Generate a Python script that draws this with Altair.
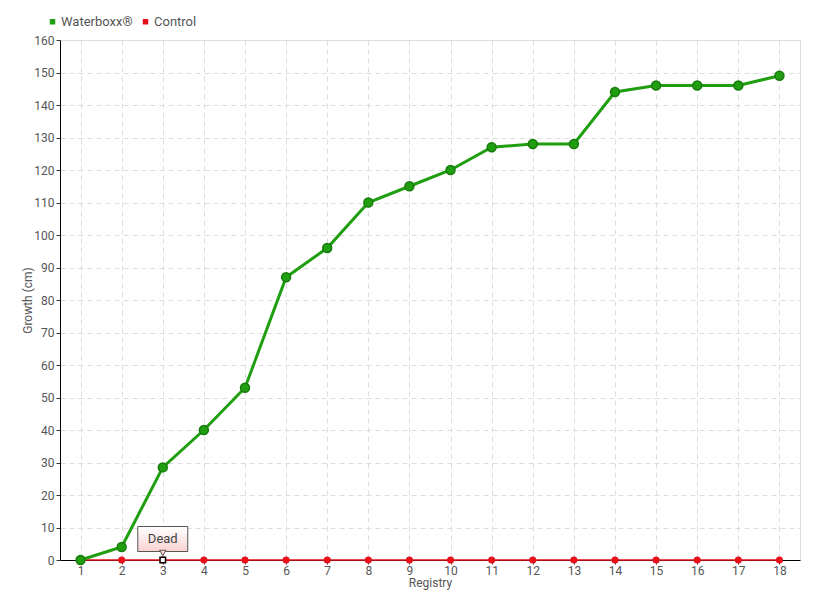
import altair as alt
import pandas as pd

registry = list(range(1, 19))
waterboxx = [0, 4, 28.5, 40, 53, 87, 96, 110, 115, 120, 127, 128, 128, 144, 146, 146, 146, 149]
control = [0] * 18
series_names = ["Waterboxx®", "Control"]
series_colors = ["#1f9e10", "#e8101a"]
dead_registry = 3
dead_label = "Dead"

rows = []
for r, w, c in zip(registry, waterboxx, control):
    rows.append({"Registry": r, "Growth": w, "Series": series_names[0]})
    rows.append({"Registry": r, "Growth": c, "Series": series_names[1]})
df = pd.DataFrame(rows)
ann = pd.DataFrame([{"Registry": dead_registry, "Growth": 0, "label": dead_label}])

FONT = "Roboto"
xs = alt.X("Registry:O", scale=alt.Scale(type="point", padding=0.5, domain=registry),
           axis=alt.Axis(title="Registry", labelAngle=0, grid=True, gridDash=[5, 4],
                         gridColor="#dddddd", domainColor="#000000", tickColor="#333333",
                         tickSize=4, labelColor="#555555", titleColor="#555555",
                         labelFontSize=12, titleFontSize=12, titleFontWeight="normal",
                         labelFont=FONT, titleFont=FONT, titlePadding=1, labelPadding=1))
ys = alt.Y("Growth:Q", scale=alt.Scale(domain=[0, 160], nice=False),
           axis=alt.Axis(title="Growth (cm)", values=list(range(0, 161, 10)), grid=True,
                         gridDash=[5, 4], gridColor="#dddddd", domainColor="#000000",
                         tickColor="#333333", tickSize=4, labelColor="#555555",
                         titleColor="#555555", labelFontSize=12, titleFontSize=12,
                         titleFontWeight="normal", labelFont=FONT, titleFont=FONT,
                         titlePadding=-1))
color = alt.Color("Series:N", scale=alt.Scale(domain=series_names, range=series_colors),
                  legend=alt.Legend(title=None, orient="none", legendX=-14, legendY=-25,
                                    direction="horizontal", symbolType="square",
                                    symbolSize=30, symbolStrokeWidth=0, labelFontSize=13,
                                    labelFont=FONT, labelColor="#555555", columnPadding=6,
                                    labelOffset=2))

base = alt.Chart(df)
lines_w = base.transform_filter(alt.datum.Series == series_names[0]).mark_line(
    strokeWidth=3).encode(x=xs, y=ys, color=color)
lines_c = base.transform_filter(alt.datum.Series == series_names[1]).mark_line(
    strokeWidth=1.5).encode(x=xs, y=ys, color=color)
pts_w = base.transform_filter(alt.datum.Series == series_names[0]).mark_circle(
    size=80, opacity=1, stroke="#187a0c", strokeWidth=1.5).encode(x=xs, y=ys, color=color)
pts_c = base.transform_filter(alt.datum.Series == series_names[1]).mark_circle(
    size=50, opacity=1).encode(x=xs, y=ys, color=color)

abase = alt.Chart(ann)
box = abase.mark_rect(width=50, height=25, yOffset=-21,
                      fill={"gradient": "linear", "x1": 0, "y1": 0, "x2": 0, "y2": 1,
                            "stops": [{"offset": 0, "color": "#ffffff"},
                                      {"offset": 1, "color": "#fbd2d2"}]},
                      stroke="#555555", strokeWidth=1).encode(x=xs, y=ys)
ptr = abase.mark_point(shape="triangle-down", size=40, filled=True, fill="#fbd2d2",
                       stroke="#555555", strokeWidth=1, yOffset=-7, opacity=1).encode(x=xs, y=ys)
txt = abase.mark_text(fontSize=13, font=FONT, color="#444444", yOffset=-21).encode(
    x=xs, y=ys, text="label:N")
sq = abase.mark_square(size=30, filled=True, fill="#ffffff", stroke="#000000",
                       strokeWidth=1.5, opacity=1).encode(x=xs, y=ys)

chart = alt.layer(lines_c, lines_w, pts_c, pts_w, box, ptr, txt, sq).properties(
    width=740, height=520,
    autosize=alt.AutoSizeParams(type="none"),
    padding={"left": 52, "top": 32, "right": 12, "bottom": 40},
).configure_view(stroke=None).configure(background="#ffffff")

chart.save("out.html", embed_options={"renderer": "svg", "actions": False})
